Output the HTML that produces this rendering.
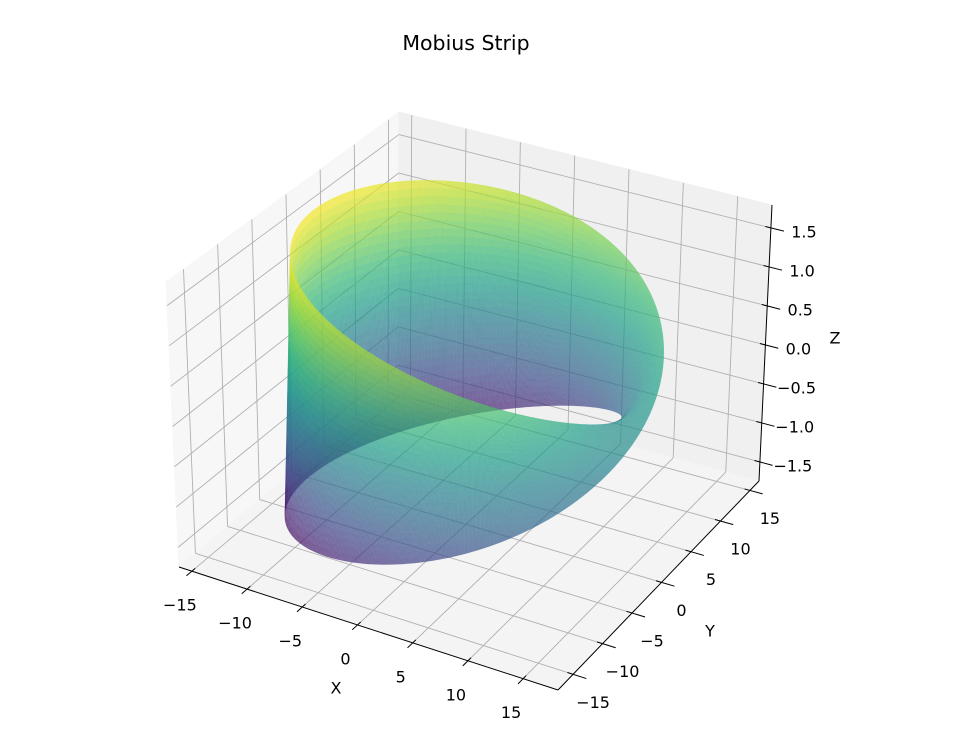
<!DOCTYPE html>
<html><head><meta charset="utf-8">
<style>
html,body{margin:0;padding:0;background:#fff;}
svg{display:block;font-family:"DejaVu Sans","Liberation Sans",sans-serif;}
</style></head>
<body>
<svg id="chart" width="956" height="738" viewBox="0 0 956 738" xmlns="http://www.w3.org/2000/svg">
<rect width="956" height="738" fill="#fff"/>
<text x="466" y="50" font-size="20.5" text-anchor="middle" fill="#000">Mobius Strip</text>
<g id="panes"></g>
<g id="grid"></g>
<g id="surf"></g>
<g id="axes"></g>
</svg>
<script>
const xTicks=[-15,-10,-5,0,5,10,15];
const yTicks=[-15,-10,-5,0,5,10,15];
const zTicks=[-1.5,-1.0,-0.5,0.0,0.5,1.0,1.5];
const zTickLabels=["\u22121.5","\u22121.0","\u22120.5","0.0","0.5","1.0","1.5"];
const stripRadius=[14];
const stripHalfWidth=[1.65];
const uSteps=[300];
const vSteps=[30];

const NS="http://www.w3.org/2000/svg";
const C={
 "000":[179,567],"100":[558,690],"110":[759,481],"010":[398,384],
 "001":[166,282],"101":[566,397],"111":[772,205],"011":[399,112]};
function lerp(a,b,t){return [a[0]+(b[0]-a[0])*t,a[1]+(b[1]-a[1])*t];}
function P(tx,ty,tz){
 const b0=lerp(lerp(C["000"],C["100"],tx),lerp(C["010"],C["110"],tx),ty);
 const b1=lerp(lerp(C["001"],C["101"],tx),lerp(C["011"],C["111"],tx),ty);
 return lerp(b0,b1,tz);
}
function TX(x){return 0.471+0.02913*x;}
function TY(y){return 0.515+0.02933*y;}
function TZ(z){return 0.493+0.2827*z;}
function proj(x,y,z){return P(TX(x),TY(y),TZ(z));}
function mk(tag,attrs,parent){const e=document.createElementNS(NS,tag);for(const k in attrs)e.setAttribute(k,attrs[k]);parent.appendChild(e);return e;}
function pts(a){return a.map(p=>p[0].toFixed(2)+","+p[1].toFixed(2)).join(" ");}

const panes=document.getElementById("panes");
let e;
e=mk("polygon",{points:pts([P(0,0,0),P(0,1,0),P(0,1,1),P(0,0,1)]),fill:"#f7f7f7",stroke:"#f7f7f7"},panes);

e=mk("polygon",{points:pts([P(0,1,0),P(1,1,0),P(1,1,1),P(0,1,1)]),fill:"#f0f0f0",stroke:"#f0f0f0"},panes);

e=mk("polygon",{points:pts([P(0,0,0),P(1,0,0),P(1,1,0),P(0,1,0)]),fill:"#f4f4f4",stroke:"#f4f4f4"},panes);


const grid=document.getElementById("grid");
function gl(a,b,name){const l=mk("line",{x1:a[0],y1:a[1],x2:b[0],y2:b[1],stroke:"#b0b0b0","stroke-width":"0.9"},grid);
 }
xTicks.forEach(v=>{const t=TX(v);gl(P(t,0,0),P(t,1,0),"x-grid-floor");gl(P(t,1,0),P(t,1,1),"x-grid-back");});
yTicks.forEach(v=>{const t=TY(v);gl(P(0,t,0),P(1,t,0),"y-grid-floor");gl(P(0,t,0),P(0,t,1),"y-grid-left");});
zTicks.forEach(v=>{const t=TZ(v);gl(P(0,0,t),P(0,1,t),"z-grid-left");gl(P(0,1,t),P(1,1,t),"z-grid-back");});

const VS=[[68,1,84],[72,40,120],[62,74,137],[49,104,142],[38,130,142],[31,158,137],[53,183,121],[109,205,89],[180,222,44],[253,231,37]];
function viridis(t){t=Math.max(0,Math.min(1,t));const f=t*(VS.length-1);const i=Math.min(VS.length-2,Math.floor(f));const r=f-i;
 const c=VS[i].map((v,k)=>Math.round(v+(VS[i+1][k]-v)*r));return "rgb("+c.join(",")+")";}

const surf=document.getElementById("surf");
const R=stripRadius[0],W=stripHalfWidth[0],NU=uSteps[0],NV=vSteps[0];
function pt(u,v){const r=R+v*Math.cos(u/2);return [r*Math.cos(u),r*Math.sin(u),v*Math.sin(u/2)];}
const eye=[0.433,-0.75,0.5];
const quads=[];
for(let i=0;i<NU;i++){const u0=2*Math.PI*i/NU,u1=2*Math.PI*(i+1)/NU;
 for(let j=0;j<NV;j++){const v0=-W+2*W*j/NV,v1=-W+2*W*(j+1)/NV;
  const c=[pt(u0,v0),pt(u1,v0),pt(u1,v1),pt(u0,v1)];
  let zm=0,d=0;c.forEach(p=>{zm+=p[2]/4;d+=((TX(p[0])-0.5)*eye[0]+(TY(p[1])-0.5)*eye[1]+(TZ(p[2])-0.5)*eye[2])/4;});
  quads.push({c,zm,d});}}
quads.sort((a,b)=>a.d-b.d);
quads.forEach(q=>{const col=viridis((q.zm+W)/(2*W));
 const p=mk("polygon",{points:pts(q.c.map(v=>proj(v[0],v[1],v[2]))),fill:col,"fill-opacity":"0.7",stroke:col,"stroke-opacity":"0.15","stroke-width":"0.3"},surf);
 });

const axes=document.getElementById("axes");
function al(a,b,name,w){const l=mk("line",{x1:a[0],y1:a[1],x2:b[0],y2:b[1],stroke:"#000","stroke-width":w||"1"},axes);
 }
function tx(x,y,s,name,size){const t=mk("text",{x:x,y:y,"font-size":size||16,"text-anchor":"middle","dominant-baseline":"central",fill:"#000"},axes);
 t.textContent=s;}
al(P(0,0,0),P(1,0,0),"x-axis-line");
al(P(1,0,0),P(1,1,0),"y-axis-line");
al(P(1,1,0),P(1,1,1),"z-axis-line");
function fmt(v){return v<0?"\u2212"+Math.abs(v):String(v);}
xTicks.forEach(v=>{const t=TX(v);al(P(t,-0.025,0),P(t,0.015,0),"x-tick");const p=P(t,0,0);tx(p[0]-12,p[1]+34,fmt(v),"x-tick-label");});
yTicks.forEach(v=>{const t=TY(v);al(P(0.985,t,0),P(1.035,t,0),"y-tick");const p=P(1,t,0);tx(p[0]+20,p[1]+28,fmt(v),"y-tick-label");});
zTicks.forEach((v,i)=>{const t=TZ(v);al(P(0.985,1,t),P(1.035,1,t),"z-tick");const p=P(1,1,t);tx(p[0]+33,p[1]+4,zTickLabels[i],"z-tick-label");});
tx(336,688,"X","x-axis-title");
tx(710,631,"Y","y-axis-title");
tx(835,338,"Z","z-axis-title");
</script>
</body></html>
